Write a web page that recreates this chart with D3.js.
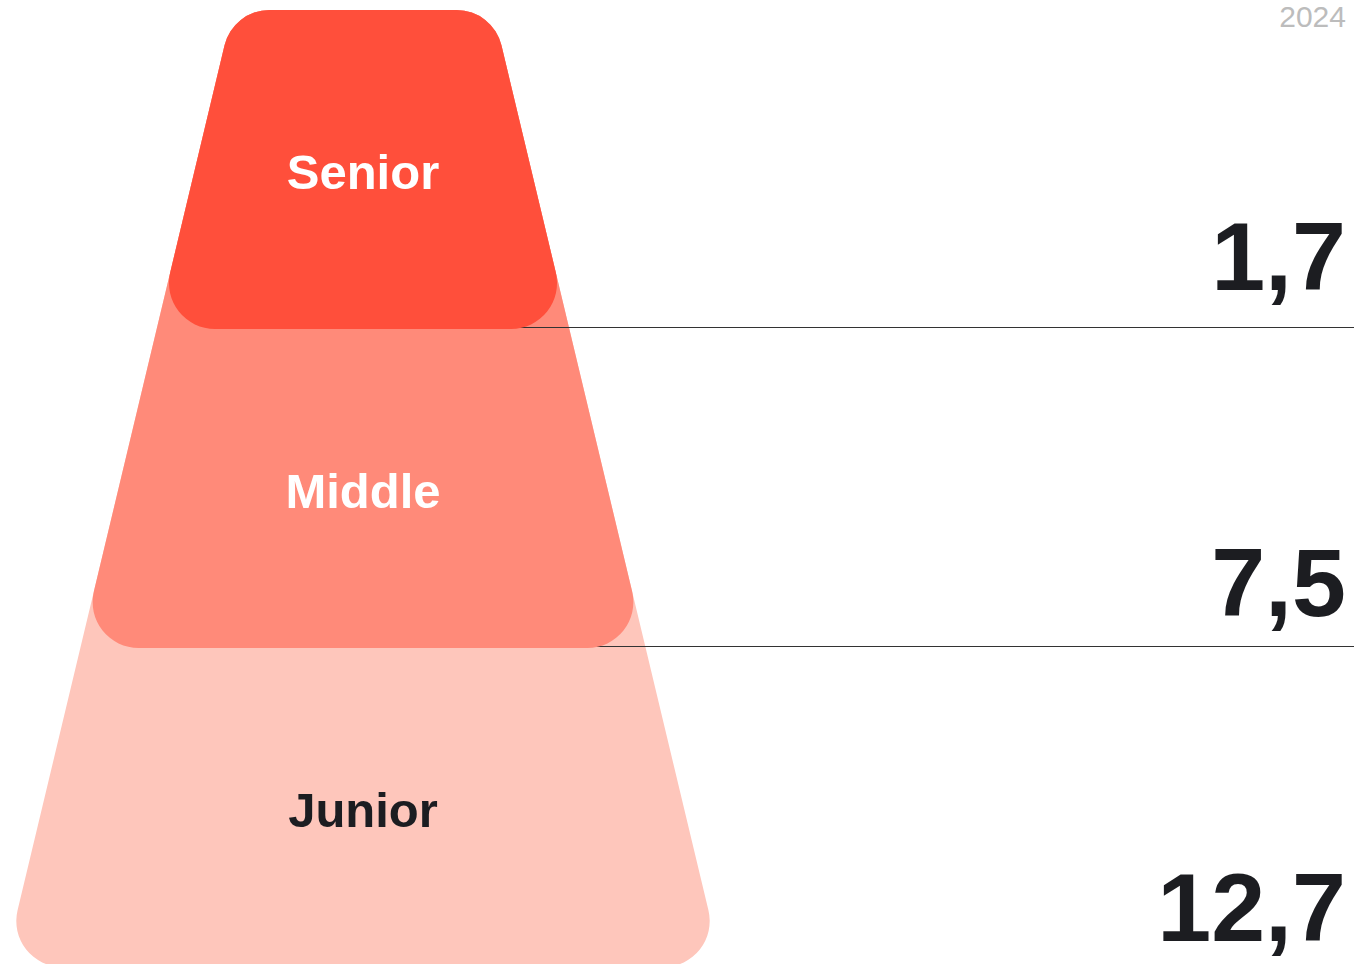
<!DOCTYPE html>
<html>
<head>
<meta charset="utf-8">
<script src="https://cdn.jsdelivr.net/npm/d3@7"></script>
<style>
  html, body { margin: 0; padding: 0; background: #fff; }
  svg { display: block; font-family: "Liberation Sans", Arial, sans-serif; }
</style>
</head>
<body>
<div class="chart"></div>
<script>
'use strict';

var levels = ['Senior', 'Middle', 'Junior'];
var values = [1.7, 7.5, 12.7];
var fills = ['#ff4f3b', '#ff8a79', '#fec6bb'];
var labelColors = ['#ffffff', '#ffffff', '#1c1d21'];
var yearLabel = '2024';

(function () {

  var width = 1356,
      height = 964,
      cx = 363,
      top = 10,
      radius = 46;

  var svg = d3.select('.chart')
    .append('svg')
      .attr('width', width)
      .attr('height', height);

  // each level takes an equal slice of the pyramid
  var y = d3.scaleBand()
      .domain(levels)
      .range([top, 967]);

  // half width of the pyramid at a given height
  var halfWidth = d3.scaleLinear()
      .domain([top, 967])
      .range([130, 359]);

  var fmt = function (v) { return d3.format('.1f')(v).replace('.', ','); };

  function roundedPoly(pts, r) {
    var p = d3.path();
    var n = pts.length;
    var start = [(pts[0][0] + pts[1][0]) / 2, (pts[0][1] + pts[1][1]) / 2];
    p.moveTo(start[0], start[1]);
    for (var i = 1; i <= n; i++) {
      var a = pts[i % n], b = pts[(i + 1) % n];
      p.arcTo(a[0], a[1], b[0], b[1], r);
    }
    p.closePath();
    return p.toString();
  }

  var data = levels.map(function (d, i) {
    return { level: d, value: values[i], fill: fills[i], text: labelColors[i] };
  });

  // draw from the bottom level up so upper shapes sit on top
  data.slice().reverse().forEach(function (d) {
    var bottom = y(d.level) + y.bandwidth();
    var pts = [
      [cx - halfWidth(top), top],
      [cx + halfWidth(top), top],
      [cx + halfWidth(bottom), bottom],
      [cx - halfWidth(bottom), bottom]
    ];
    svg.append('path')
        .attr('d', roundedPoly(pts, radius))
        .style('fill', d.fill);

    // separator line at the top of this band
    if (y(d.level) > top) {
      svg.append('line')
          .attr('x1', cx)
          .attr('x2', 1354)
          .attr('y1', y(d.level) - 1.5)
          .attr('y2', y(d.level) - 1.5)
          .style('stroke', '#333')
          .style('stroke-width', 1.2);
    }
  });

  svg.selectAll('.level-label')
      .data(data)
    .enter().append('text')
      .attr('class', 'level-label')
      .attr('x', cx)
      .attr('y', function (d) { return y(d.level) + y.bandwidth() / 2 + 19; })
      .attr('text-anchor', 'middle')
      .style('font-size', '49px')
      .style('font-weight', 'bold')
      .style('fill', function (d) { return d.text; })
      .text(function (d) { return d.level; });

  svg.selectAll('.value-label')
      .data(data)
    .enter().append('text')
      .attr('class', 'value-label')
      .attr('x', 1346)
      .attr('y', function (d, i) { return y(d.level) + y.bandwidth() - [39, 32, 26][i]; })
      .attr('text-anchor', 'end')
      .style('font-size', '97px')
      .style('font-weight', 'bold')
      .style('fill', '#1c1d21')
      .text(function (d) { return fmt(d.value); });

  svg.append('text')
      .attr('x', 1346)
      .attr('y', 27)
      .attr('text-anchor', 'end')
      .style('font-size', '30px')
      .style('fill', '#bcbcbc')
      .text(yearLabel);
})();
</script>
</body>
</html>
